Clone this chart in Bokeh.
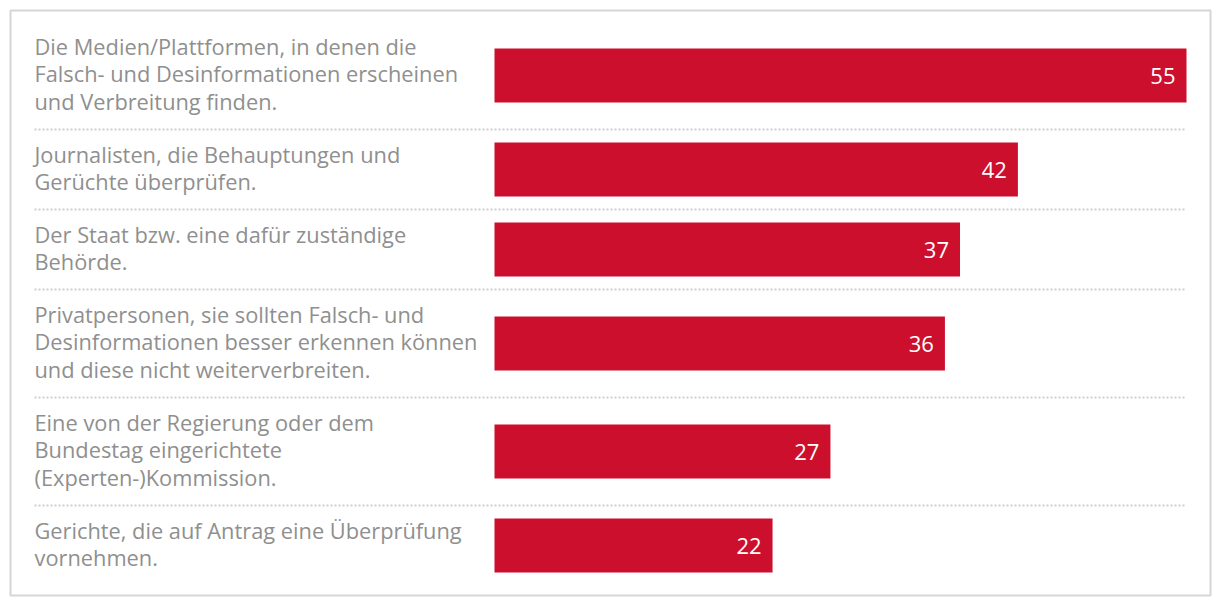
from bokeh.plotting import figure
from bokeh.models import ColumnDataSource, Range1d
from bokeh.core.properties import value
from bokeh.embed import file_html
from bokeh.resources import INLINE

# ---- data ----
categories = [
    "Die Medien/Plattformen, in denen die\nFalsch- und Desinformationen erscheinen\nund Verbreitung finden.",
    "Journalisten, die Behauptungen und\nGerüchte überprüfen.",
    "Der Staat bzw. eine dafür zuständige\nBehörde.",
    "Privatpersonen, sie sollten Falsch- und\nDesinformationen besser erkennen können\nund diese nicht weiterverbreiten.",
    "Eine von der Regierung oder dem\nBundestag eingerichtete\n(Experten-)Kommission.",
    "Gerichte, die auf Antrag eine Überprüfung\nvornehmen.",
]
values = [55.0, 41.6, 37.0, 35.8, 26.7, 22.1]
value_labels = [str(int(round(v))) for v in values]

# ---- layout helpers (pixel-like units on y) ----
LINE_H = 28
ROW_PAD = 24
PAD_TOP = 11
PAD_BOTTOM = 10
BAR_H = 54

FONT = "Open Sans"
TEXT_COLOR = "#8f8f8f"
BAR_COLOR = "#cd0f2e"

FRAME_W = 1200
ZERO_PX = 484          # bar baseline offset inside frame
MAX_PX = 1176          # end of largest bar inside frame
scale = (MAX_PX - ZERO_PX) / max(values)
x_start = -ZERO_PX / scale
x_end = (FRAME_W - ZERO_PX) / scale
label_x = x_start + 24 / scale
sep_x1 = max(values)

n_lines = [c.count("\n") + 1 for c in categories]
heights = [n * LINE_H + ROW_PAD for n in n_lines]
tops = []
acc = 0
for h in heights:
    tops.append(acc)
    acc += h
total = acc
centers = [t + h / 2 for t, h in zip(tops, heights)]

src = ColumnDataSource(dict(
    cat=categories,
    val=values,
    lab=value_labels,
    y=centers,
    lx=[label_x] * len(values),
    zero=[0] * len(values),
))

p = figure(
    width=1220, height=606,
    x_range=Range1d(x_start, x_end),
    y_range=Range1d(total + PAD_BOTTOM, -PAD_TOP),
    output_backend="svg", toolbar_location=None,
    x_axis_location=None, y_axis_location=None,
    min_border_left=10, min_border_right=10, min_border_top=10, min_border_bottom=11,
)
p.grid.visible = False
p.outline_line_color = "#d6d6d6"
p.outline_line_width = 2
p.background_fill_color = "white"
p.border_fill_color = "white"

# separators between rows
sep_y = tops[1:]
p.segment(x0=[label_x] * len(sep_y), x1=[sep_x1] * len(sep_y), y0=sep_y, y1=sep_y,
          line_color="#cfcfcf", line_width=2, line_dash="2 2")

p.hbar(y="y", left="zero", right="val", height=BAR_H, source=src,
       fill_color=BAR_COLOR, line_color=None)

p.text(x="lx", y="y", text="cat", source=src, y_offset=-1.5,
       text_font=value(FONT), text_font_size="21.8px", text_color=TEXT_COLOR,
       text_align="left", text_baseline="middle", text_line_height=0.95)

p.text(x="val", y="y", text="lab", source=src, x_offset=-11,
       text_font=value(FONT), text_font_size="22px", text_color="white",
       text_align="right", text_baseline="middle")

open("out.html", "w").write(file_html(p, INLINE))
